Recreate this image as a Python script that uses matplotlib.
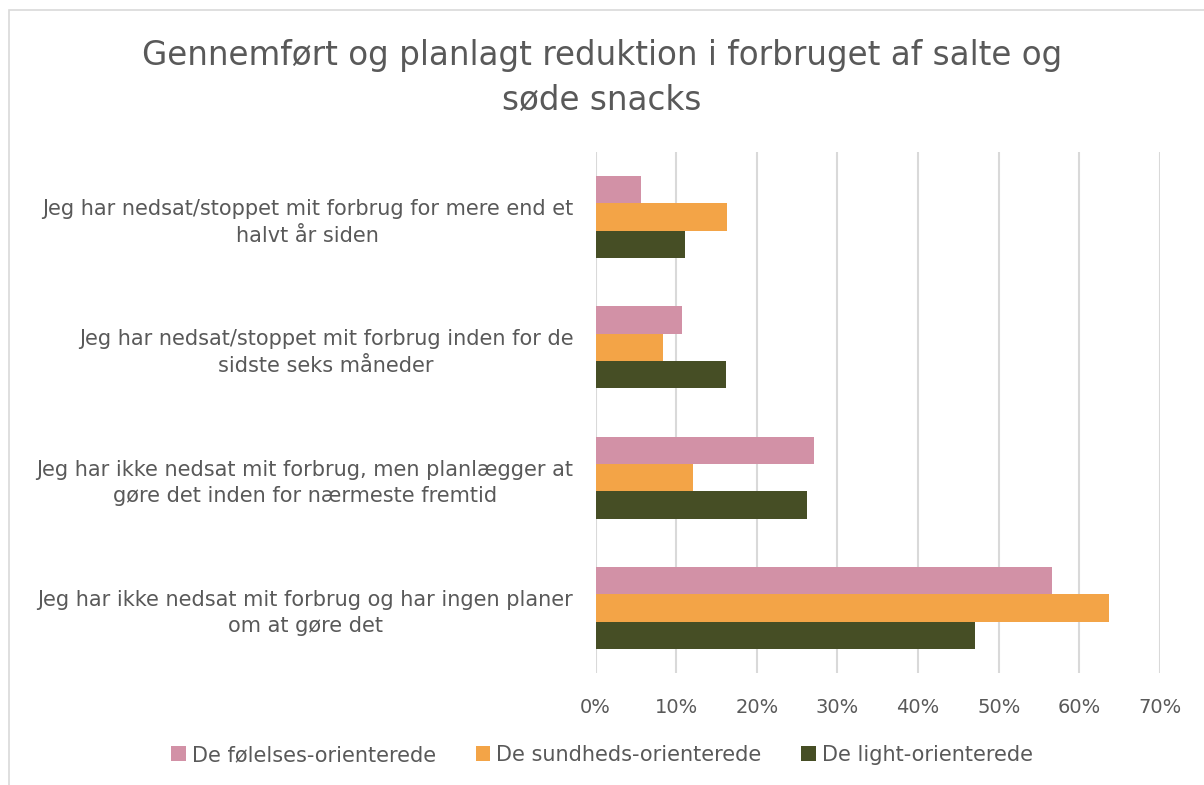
import numpy as np
import matplotlib.pyplot as plt
from matplotlib.patches import Rectangle

categories = [
    "Jeg har nedsat/stoppet mit forbrug for mere end et\nhalvt år siden",
    "Jeg har nedsat/stoppet mit forbrug inden for de\nsidste seks måneder",
    "Jeg har ikke nedsat mit forbrug, men planlægger at\ngøre det inden for nærmeste fremtid",
    "Jeg har ikke nedsat mit forbrug og har ingen planer\nom at gøre det",
]
series_names = ["De følelses-orienterede", "De sundheds-orienterede", "De light-orienterede"]
foelelses = [5.7, 10.7, 27.1, 56.6]
sundheds = [16.3, 8.4, 12.1, 63.7]
light = [11.1, 16.2, 26.2, 47.0]
colors = ["#D291A6", "#F3A447", "#464E25"]
xticks = [0, 10, 20, 30, 40, 50, 60, 70]

txt = "#595959"
fig = plt.figure(figsize=(12.04, 7.85), dpi=100)
ax = fig.add_axes([595.5 / 1204, 1 - 673 / 785, (1160 - 595.5) / 1204, (673 - 152) / 785])

y = np.arange(len(categories))
h = 0.21
for i, (vals, name) in enumerate(zip([foelelses, sundheds, light], series_names)):
    ax.barh(y + (i - 1) * h, vals, height=h, color=colors[i], label=name, zorder=3)

ax.set_ylim(3.5, -0.5)
ax.set_xlim(0, 70)
ax.set_xticks(xticks)
ax.set_xticklabels([f"{t}%" for t in xticks], fontsize=14, color=txt)
ax.set_yticks(y)
ax.set_yticklabels(categories, fontsize=15, color=txt, linespacing=1.4, multialignment="center")
ax.tick_params(length=0, pad=16, axis="y")
ax.tick_params(length=0, pad=18, axis="x")
ax.grid(axis="x", color="#D9D9D9", linewidth=1.5, zorder=0)
for s in ax.spines.values():
    s.set_visible(False)

fig.text(0.5, 1 - 55 / 785, "Gennemført og planlagt reduktion i forbruget af salte og",
         ha="center", va="center", fontsize=23.5, color=txt)
fig.text(0.5, 1 - 100 / 785, "søde snacks", ha="center", va="center", fontsize=23.5, color=txt)

fig.legend(loc="center", bbox_to_anchor=(0.5, 1 - 755 / 785), ncol=3, frameon=False,
           fontsize=15, labelcolor=txt, handlelength=0.7, handleheight=0.7,
           handletextpad=0.3, columnspacing=1.9)

# chart area outline
fig.patches.append(Rectangle((8.5 / 1204, -0.01), 1.1, 1 - 10 / 785 + 0.01, transform=fig.transFigure,
                             fill=False, edgecolor="#D9D9D9", linewidth=1.2))

fig.savefig("out.png")
